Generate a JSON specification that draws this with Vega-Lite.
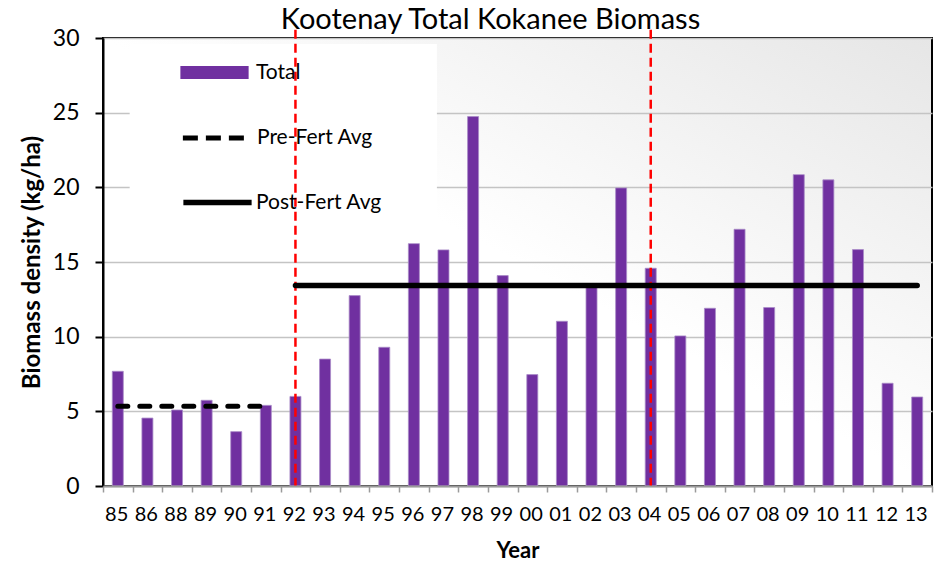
{
  "$schema": "https://vega.github.io/schema/vega-lite/v6.json",
  "width": 829,
  "height": 448,
  "autosize": {"type": "none"},
  "padding": {"left": 103, "top": 38, "right": 8, "bottom": 75},
  "background": "white",
  "title": {"text": "Kootenay Total Kokanee Biomass", "font": "Lato", "fontSize": 29, "fontWeight": "normal", "color": "black", "anchor": "middle", "dx": -27, "offset": -8},
  "datasets": {
    "bars": [
      {"year": "85", "biomass": 7.68, "series": "Total"},
      {"year": "86", "biomass": 4.55, "series": "Total"},
      {"year": "88", "biomass": 5.09, "series": "Total"},
      {"year": "89", "biomass": 5.74, "series": "Total"},
      {"year": "90", "biomass": 3.64, "series": "Total"},
      {"year": "91", "biomass": 5.40, "series": "Total"},
      {"year": "92", "biomass": 6.0, "series": "Total"},
      {"year": "93", "biomass": 8.5, "series": "Total"},
      {"year": "94", "biomass": 12.75, "series": "Total"},
      {"year": "95", "biomass": 9.29, "series": "Total"},
      {"year": "96", "biomass": 16.23, "series": "Total"},
      {"year": "97", "biomass": 15.81, "series": "Total"},
      {"year": "98", "biomass": 24.74, "series": "Total"},
      {"year": "99", "biomass": 14.09, "series": "Total"},
      {"year": "00", "biomass": 7.46, "series": "Total"},
      {"year": "01", "biomass": 11.03, "series": "Total"},
      {"year": "02", "biomass": 13.3, "series": "Total"},
      {"year": "03", "biomass": 19.96, "series": "Total"},
      {"year": "04", "biomass": 14.58, "series": "Total"},
      {"year": "05", "biomass": 10.05, "series": "Total"},
      {"year": "06", "biomass": 11.9, "series": "Total"},
      {"year": "07", "biomass": 17.19, "series": "Total"},
      {"year": "08", "biomass": 11.95, "series": "Total"},
      {"year": "09", "biomass": 20.85, "series": "Total"},
      {"year": "10", "biomass": 20.5, "series": "Total"},
      {"year": "11", "biomass": 15.83, "series": "Total"},
      {"year": "12", "biomass": 6.88, "series": "Total"},
      {"year": "13", "biomass": 5.96, "series": "Total"}
    ],
    "pre": [
      {"year": "85", "biomass": 5.34, "series": "Pre-Fert Avg"},
      {"year": "91", "biomass": 5.34, "series": "Pre-Fert Avg"}
    ],
    "post": [
      {"year": "92", "biomass": 13.43, "series": "Post-Fert Avg"},
      {"year": "13", "biomass": 13.43, "series": "Post-Fert Avg"}
    ],
    "fert": [
      {"year": "92"},
      {"year": "04"}
    ]
  },
  "layer": [
    {
      "data": {"name": "fert"},
      "mark": {"type": "rect", "fill": "white", "xOffset": 12},
      "encoding": {
        "x": {"datum": "85", "type": "ordinal", "title": "Year"},
        "x2": {"datum": "97", "bandPosition": 0.27},
        "y": {"datum": 29.6, "type": "quantitative", "title": "Biomass density (kg/ha)"},
        "y2": {"datum": 17}
      }
    },
    {
      "data": {"name": "bars"},
      "mark": {"type": "bar", "size": 11, "stroke": "#a98bc8", "strokeWidth": 0.8},
      "encoding": {
        "x": {
          "field": "year", "type": "ordinal", "title": "Year",
          "scale": {"domain": ["85","86","88","89","90","91","92","93","94","95","96","97","98","99","00","01","02","03","04","05","06","07","08","09","10","11","12","13"], "paddingInner": 0, "paddingOuter": 0},
          "axis": {"labelAngle": 0, "grid": false, "tickBand": "extent", "labelOffset": 10, "domainColor": "#9a9a9a", "domainWidth": 2, "tickColor": "#9a9a9a", "tickWidth": 1.5, "tickSize": 6, "labelFontSize": 20, "labelPadding": 22, "titleFontSize": 22, "titleFontWeight": "bold", "titlePadding": 16, "zindex": 1}
        },
        "y": {
          "field": "biomass", "type": "quantitative", "title": "Biomass density (kg/ha)",
          "scale": {"domain": [0, 30], "nice": false},
          "axis": {"values": [0, 5, 10, 15, 20, 25, 30], "grid": true, "gridColor": "#c4c4c4", "gridWidth": 1.5, "domainColor": "black", "domainWidth": 2, "tickColor": "black", "tickWidth": 2, "tickSize": 8, "labelFontSize": 23, "labelPadding": 16, "titleFontSize": 24, "titleFontWeight": "bold", "titlePadding": 8}
        },
        "fill": {
          "field": "series", "type": "nominal",
          "scale": {"domain": ["Total"], "range": ["#7030A0"]},
          "legend": {
            "title": null, "orient": "none", "legendX": 79, "legendY": 2, "padding": 0,
            "symbolType": "M-1.05,-0.2H1.05V0.2H-1.05Z", "symbolSize": 4225, "symbolStrokeWidth": 0,
            "labelOffset": 9, "labelFont": "Lato", "labelFontSize": 21, "labelColor": "black"
          }
        }
      }
    },
    {
      "data": {"name": "fert"},
      "mark": {"type": "rule", "color": "#ff0000", "strokeWidth": 2.5, "strokeDash": [9, 5]},
      "encoding": {
        "x": {"field": "year", "type": "ordinal", "title": "Year"},
        "y": {"datum": 30.55, "type": "quantitative", "title": "Biomass density (kg/ha)"},
        "y2": {"datum": -0.15}
      }
    },
    {
      "data": {"name": "pre"},
      "mark": {"type": "line", "strokeWidth": 5, "strokeDash": [10, 12], "strokeCap": "round"},
      "encoding": {
        "x": {"field": "year", "type": "ordinal", "title": "Year"},
        "y": {"field": "biomass", "type": "quantitative", "title": "Biomass density (kg/ha)"},
        "stroke": {
          "field": "series", "type": "nominal",
          "scale": {"domain": ["Pre-Fert Avg"], "range": ["black"]},
          "legend": {
            "title": null, "orient": "none", "legendX": 79, "legendY": 65, "padding": 0,
            "symbolType": "M-1.05,0H1.05", "symbolSize": 4225, "symbolStrokeWidth": 5, "symbolDash": [15, 8], "symbolFillColor": "transparent",
            "labelOffset": 5, "labelFont": "Lato", "labelFontSize": 21, "labelColor": "black"
          }
        }
      }
    },
    {
      "data": {"name": "post"},
      "mark": {"type": "line", "color": "black", "strokeWidth": 5.5, "strokeCap": "round"},
      "encoding": {
        "x": {"field": "year", "type": "ordinal", "title": "Year"},
        "y": {"field": "biomass", "type": "quantitative", "title": "Biomass density (kg/ha)"},
        "strokeDash": {
          "field": "series", "type": "nominal",
          "scale": {"domain": ["Post-Fert Avg"], "range": [[1, 0]]},
          "legend": {
            "title": null, "orient": "none", "legendX": 79, "legendY": 129, "padding": 0,
            "symbolType": "M-1.05,0H1.05", "symbolSize": 4225, "symbolStrokeWidth": 5.5, "symbolStrokeColor": "black", "symbolFillColor": "transparent",
            "labelOffset": 3, "labelFont": "Lato", "labelFontSize": 21, "labelColor": "black"
          }
        }
      }
    }
  ],
  "config": {
    "font": "Lato",
    "view": {
      "stroke": "black",
      "strokeWidth": 2,
      "fill": {"gradient": "linear", "x1": 0, "y1": 1, "x2": 1, "y2": 0, "stops": [{"offset": 0, "color": "#ffffff"}, {"offset": 0.5, "color": "#ffffff"}, {"offset": 1, "color": "#e6e6e6"}]}
    },
    "axis": {"labelColor": "black", "titleColor": "black", "labelFont": "Lato", "titleFont": "Lato"}
  }
}
